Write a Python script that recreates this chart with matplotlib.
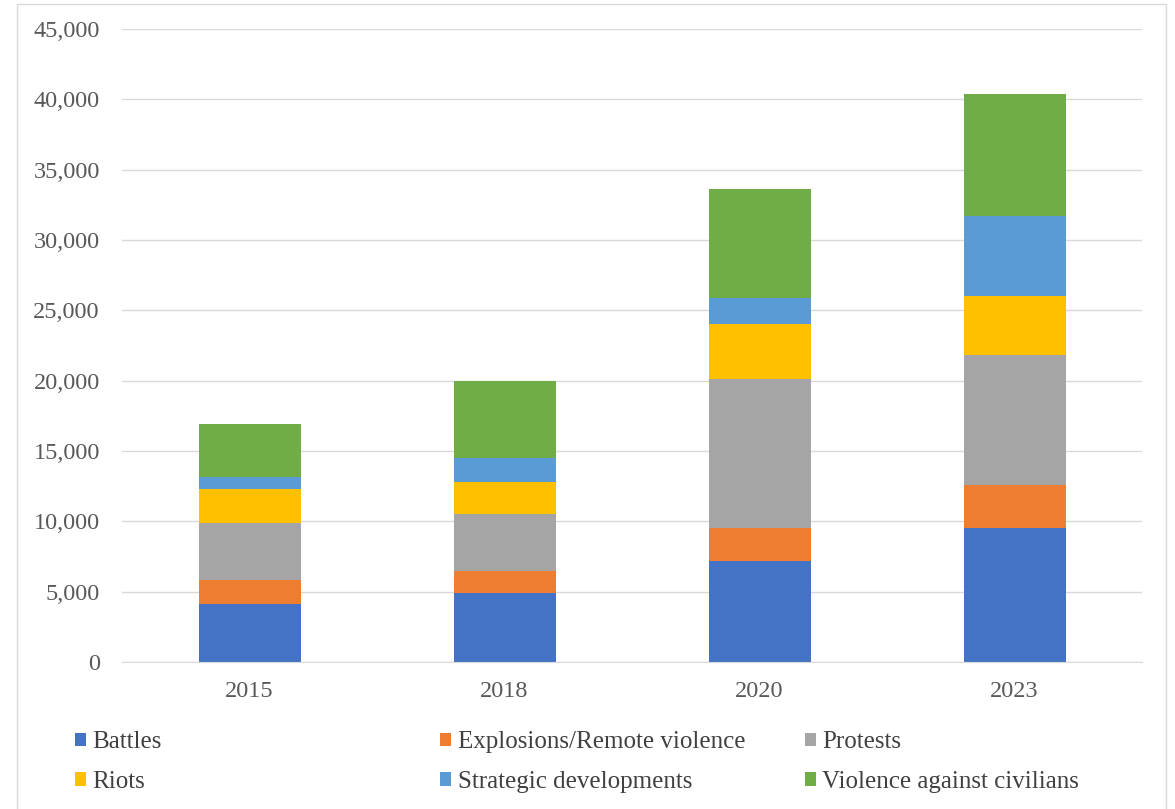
import numpy as np
import matplotlib
matplotlib.use("Agg")
import matplotlib.pyplot as plt
from matplotlib.patches import Rectangle

years = ["2015", "2018", "2020", "2023"]
battles = [4100, 4900, 7200, 9500]
explosions = [1700, 1600, 2300, 3050]
protests = [4050, 4000, 10600, 9300]
riots = [2450, 2300, 3900, 4150]
strategic = [850, 1700, 1850, 5700]
violence = [3750, 5500, 7800, 8650]

series = [
    ("Battles", battles, "#4472C4"),
    ("Explosions/Remote violence", explosions, "#ED7D31"),
    ("Protests", protests, "#A5A5A5"),
    ("Riots", riots, "#FFC000"),
    ("Strategic developments", strategic, "#5B9BD5"),
    ("Violence against civilians", violence, "#70AD47"),
]

plt.rcParams['font.family'] = ['Liberation Serif', 'DejaVu Serif']

fig = plt.figure(figsize=(11.75, 8.09), dpi=100)
ax = fig.add_axes([122/1175, 1-662/809, (1142-122)/1175, (662-29)/809])

x = np.arange(len(years))
bottom = np.zeros(len(years))
handles = []
for name, vals, col in series:
    b = ax.bar(x, vals, width=0.4, bottom=bottom, color=col, label=name)
    handles.append(b)
    bottom += np.array(vals)

ax.set_xlim(-0.5, len(years) - 0.5)
ax.set_ylim(0, 45000)
ax.set_yticks(np.arange(0, 45001, 5000))
ax.yaxis.set_major_formatter(matplotlib.ticker.FuncFormatter(lambda v, p: f"{int(v):,}"))
ax.set_xticks(x)
ax.set_xticklabels(years)
ax.grid(axis='y', color='#D9D9D9', linewidth=1)
ax.set_axisbelow(True)
for s in ['top', 'right', 'left']:
    ax.spines[s].set_visible(False)
ax.spines['bottom'].set_color('#D9D9D9')
ax.tick_params(axis='both', length=0, labelsize=17.5, colors='#595959')
ax.tick_params(axis='y', pad=16)
ax.tick_params(axis='x', pad=14)

# legend in three equal columns, like the spreadsheet one
cols = [(0, 3), (1, 4), (2, 5)]
xs = [75/1175, 440/1175, 805/1175]
for (i, j), xx in zip(cols, xs):
    leg = fig.legend([handles[i], handles[j]], [series[i][0], series[j][0]],
                     loc='center left', bbox_to_anchor=(xx, 1-762/809),
                     frameon=False, fontsize=18, handlelength=0.45,
                     handleheight=0.45, handletextpad=0.25,
                     labelspacing=0.7, borderpad=0, borderaxespad=0)
    for t in leg.get_texts():
        t.set_color('#404040')

fig.patches.append(Rectangle((17/1175, -0.01), (1166-17)/1175, 1.01-4/809,
                             transform=fig.transFigure, fill=False,
                             edgecolor='#D9D9D9', linewidth=1))

fig.savefig("out.png", dpi=100)
